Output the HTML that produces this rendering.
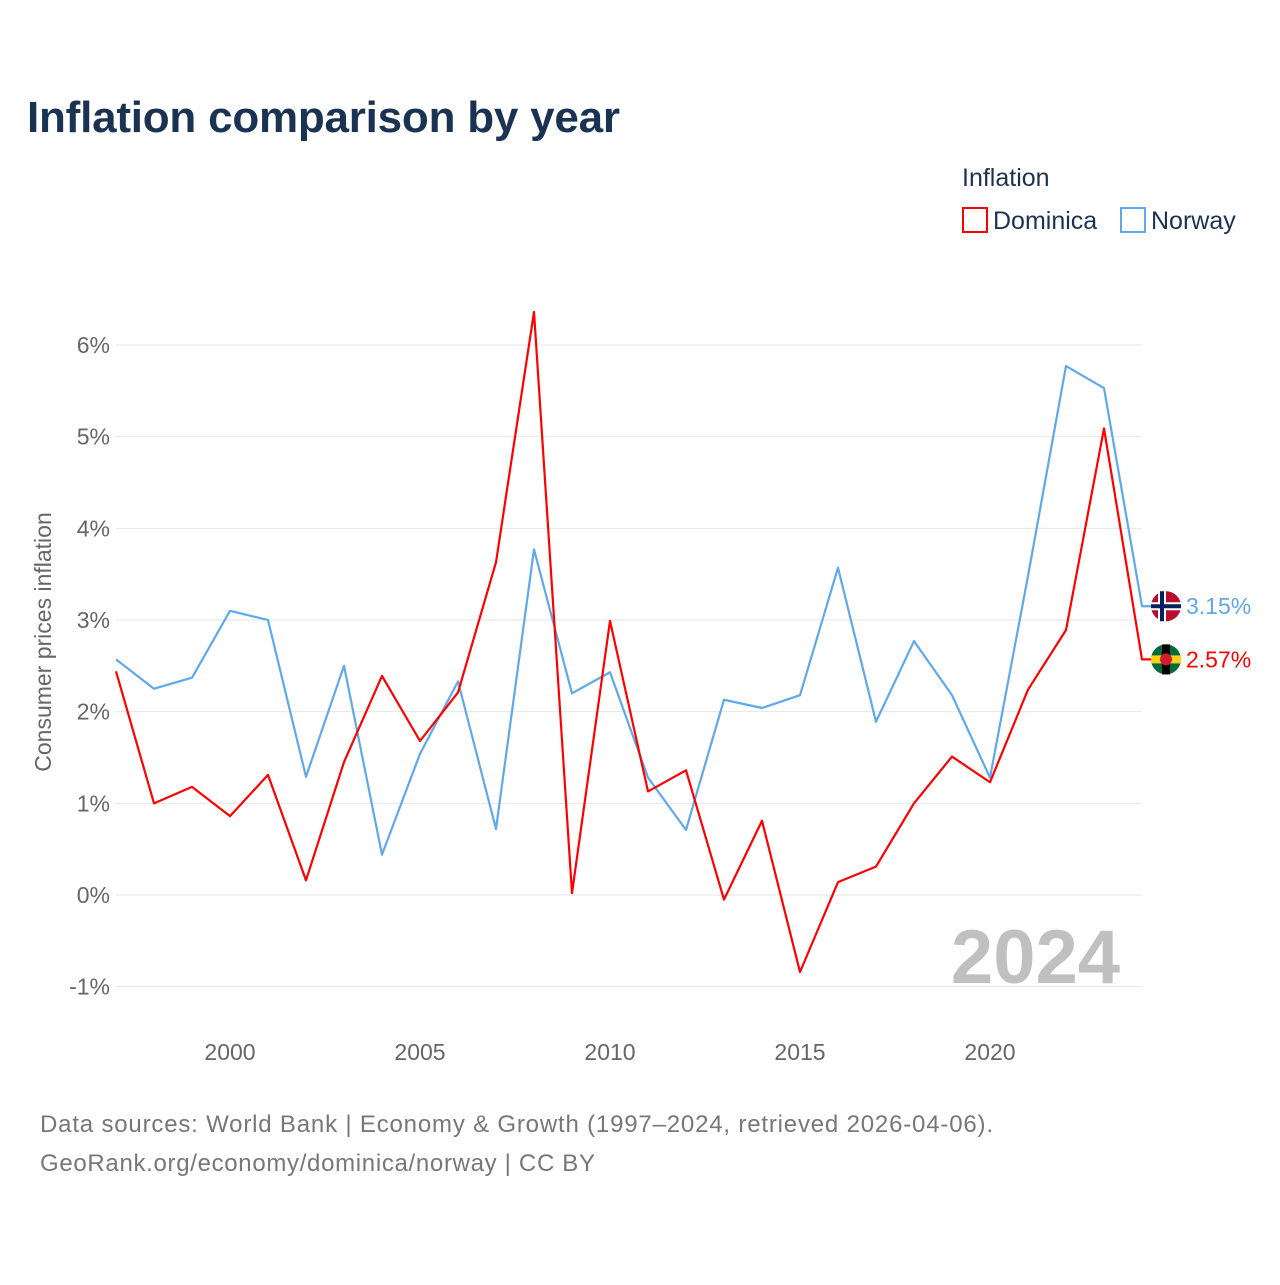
<!DOCTYPE html>
<html><head><meta charset="utf-8">
<style>
body{margin:0;background:#fff;font-family:"Liberation Sans",sans-serif;}
svg text{font-family:"Liberation Sans",sans-serif;}
</style></head>
<body>
<svg id="chart" width="1280" height="1280" viewBox="0 0 1280 1280" xmlns="http://www.w3.org/2000/svg">
<rect width="1280" height="1280" fill="#fff"/>
<text x="27" y="132" font-size="44" font-weight="bold" fill="#1b3352" textLength="593">Inflation comparison by year</text>
<text x="962" y="186" font-size="25" fill="#1b3352">Inflation</text>
<g>
<rect x="963" y="208" width="24" height="24" fill="none" stroke="#ff0000" stroke-width="2"/>
<text x="993" y="229" font-size="25" fill="#1b3352">Dominica</text></g>
<g>
<rect x="1121" y="208" width="24" height="24" fill="none" stroke="#5ea8ed" stroke-width="2"/>
<text x="1151" y="229" font-size="25" fill="#1b3352">Norway</text></g>
<g id="grid"></g>
<g id="yticks"></g>
<g id="xticks"></g>
<text transform="translate(51,642) rotate(-90)" text-anchor="middle" font-size="23" fill="#666">Consumer prices inflation</text>
<text x="1120" y="983" text-anchor="end" font-size="76" font-weight="bold" fill="#c0c0c0">2024</text>
<g id="series"></g>
<text x="40" y="1132" font-size="24" fill="#777" textLength="953">Data sources: World Bank | Economy &amp; Growth (1997–2024, retrieved 2026-04-06).</text>
<text x="40" y="1171" font-size="24" fill="#777" textLength="555">GeoRank.org/economy/dominica/norway | CC BY</text>
</svg>
<script>
const years=[1997,1998,1999,2000,2001,2002,2003,2004,2005,2006,2007,2008,2009,2010,2011,2012,2013,2014,2015,2016,2017,2018,2019,2020,2021,2022,2023,2024];
const dominica=[2.44,1.00,1.18,0.86,1.31,0.16,1.45,2.39,1.68,2.21,3.63,6.36,0.02,2.99,1.13,1.36,-0.05,0.81,-0.84,0.14,0.31,1.00,1.51,1.23,2.24,2.89,5.09,2.57];
const norway=[2.57,2.25,2.37,3.10,3.00,1.29,2.50,0.44,1.54,2.33,0.72,3.77,2.20,2.43,1.28,0.71,2.13,2.04,2.18,3.57,1.89,2.77,2.18,1.28,3.48,5.77,5.53,3.15];
const yTicks=[-1,0,1,2,3,4,5,6];
const xTicks=[2000,2005,2010,2015,2020];
const NS="http://www.w3.org/2000/svg";
const X=y=>116+(y-1997)*38;
const Y=v=>895-v*91.67;
function mk(t,a,p){const e=document.createElementNS(NS,t);for(const k in a)e.setAttribute(k,a[k]);p.appendChild(e);return e;}
const grid=document.getElementById('grid'),yt=document.getElementById('yticks'),xt=document.getElementById('xticks'),ser=document.getElementById('series');
yTicks.forEach(v=>{
 const l=mk('line',{x1:116,x2:1142,y1:Y(v),y2:Y(v),stroke:'#e6e6e6','stroke-width':1},grid);
 
 
 const t=mk('text',{x:110,y:Y(v)+8,'text-anchor':'end','font-size':23,fill:'#666'},yt);
 t.textContent=v+'%';
 
 
});
xTicks.forEach(v=>{
 const t=mk('text',{x:X(v),y:1060,'text-anchor':'middle','font-size':23,fill:'#666'},xt);
 t.textContent=v;
 
 
});
function series(vals,color,name,flag){
 let d=vals.map((v,i)=>(i?'L':'M')+X(years[i])+','+Y(v)).join(' ');
 const last=vals[vals.length-1];
 d+=' L'+(X(2024)+12)+','+Y(last);
 const p=mk('path',{d:d,fill:'none',stroke:color,'stroke-width':2.2,'stroke-linejoin':'round'},ser);
 
 
 const g=mk('g',{},ser);
 
 
 const cx=1166,cy=Y(last);
 if(flag==='no'){
  mk('circle',{cx:cx,cy:cy,r:15,fill:'#ba0c2f'},g);
  mk('rect',{x:cx-15,y:cy-4,width:30,height:8,fill:'#fff'},g);
  mk('rect',{x:cx-8,y:cy-15,width:8,height:30,fill:'#fff'},g);
  mk('rect',{x:cx-15,y:cy-2,width:30,height:4,fill:'#00205b'},g);
  mk('rect',{x:cx-6,y:cy-15,width:4,height:30,fill:'#00205b'},g);
 }else{
  mk('circle',{cx:cx,cy:cy,r:15,fill:'#006b3f'},g);
  mk('rect',{x:cx-15,y:cy-4,width:30,height:8,fill:'#fcd116'},g);
  mk('rect',{x:cx-4,y:cy-15,width:8,height:30,fill:'#000'},g);
  mk('circle',{cx:cx,cy:cy,r:6,fill:'#d41c30'},g);
 }
 const t=mk('text',{x:1186,y:cy+8,'font-size':23,fill:color},ser);
 t.textContent=last.toFixed(2)+'%';
 
 
}
series(norway,'#5ea8ed','norway','no');
series(dominica,'#ff0000','dominica','dm');
</script>
</body></html>
